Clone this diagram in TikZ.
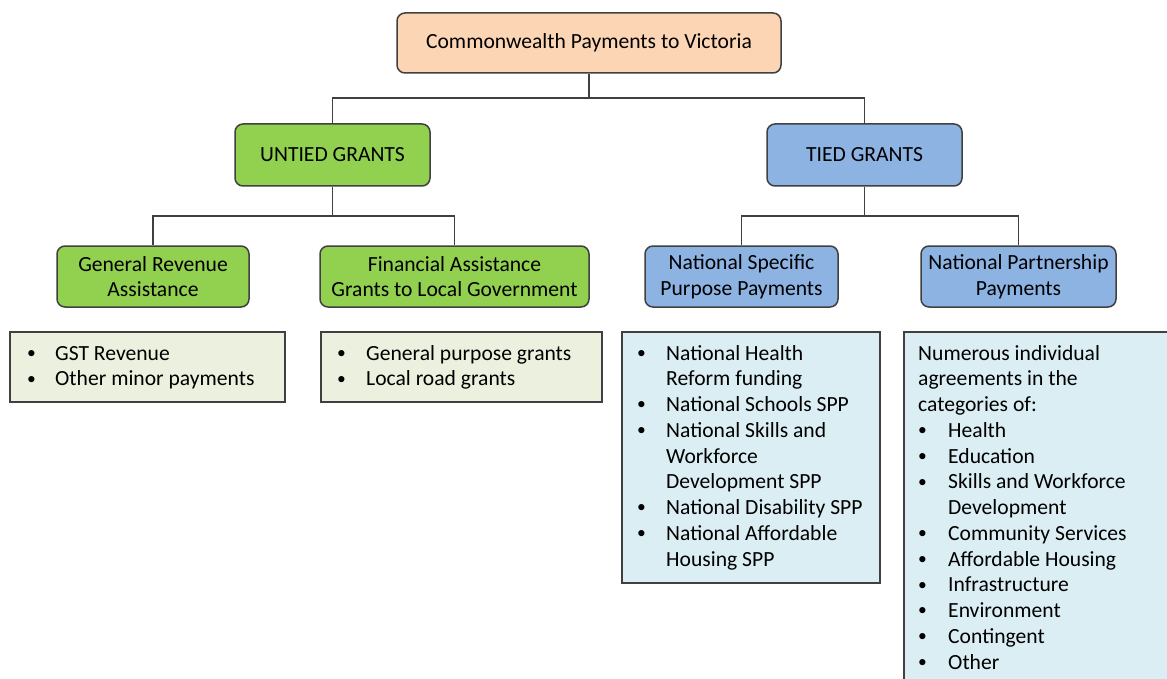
\documentclass[tikz,border=0pt]{standalone}
\usepackage{fontspec}
\setmainfont{Carlito}
\definecolor{edgegray}{HTML}{404040}
\definecolor{peach}{HTML}{FCD5B4}
\definecolor{grantgreen}{HTML}{92D050}
\definecolor{grantblue}{HTML}{8DB3E2}
\definecolor{listgreen}{HTML}{EBF1DE}
\definecolor{listblue}{HTML}{DBEEF3}
\newcommand{\bodyfont}{\fontsize{21.6}{25.75}\selectfont}
\newcommand{\bul}{\raisebox{1.6pt}{\fontsize{17.5}{17.5}\selectfont •}}
\begin{document}
\begin{tikzpicture}[x=1pt,y=-1pt,
  box/.style={draw=edgegray,line width=1.5pt,rounded corners=8pt,align=center,
    inner sep=0pt,font=\bodyfont,text=black},
  topbox/.style={box,fill=peach,minimum width=384pt,minimum height=60pt},
  greenbox/.style={box,fill=grantgreen},
  bluebox/.style={box,fill=grantblue},
  listbox/.style={draw=edgegray,line width=1.5pt,anchor=north west,inner sep=0pt},
  listtext/.style={anchor=base west,inner sep=0pt,font=\bodyfont,text=black},
  conn/.style={draw=edgegray,line width=1.5pt}]
\clip (0,0) rectangle (1167,679);
\fill[white] (0,0) rectangle (1167,679);

% hierarchy boxes
\node[topbox] (root) at (589,43) {Commonwealth Payments to Victoria};
\node[greenbox,minimum width=195pt,minimum height=62pt] (untied) at (332.5,155) {UNTIED GRANTS};
\node[bluebox,minimum width=195pt,minimum height=62pt] (tied) at (864.5,155) {TIED GRANTS};
\node[greenbox,minimum width=192pt,minimum height=61pt] (gra) at (153,276.5) {General Revenue\\Assistance};
\node[greenbox,minimum width=269pt,minimum height=61pt] (fag) at (454.5,276.5) {Financial Assistance\\Grants to Local Government};
\node[bluebox,minimum width=193pt,minimum height=61pt] (nsp) at (741.5,276.5) {National Specific\\Purpose Payments};
\node[bluebox,minimum width=195pt,minimum height=61pt] (npp) at (1018.5,276.5) {National Partnership\\Payments};

% connectors
\coordinate (j1) at (589,98);
\coordinate (j2) at (332.5,216);
\coordinate (j3) at (864.5,216);
\draw[conn] (root.south) -- (j1) -| (untied.north);
\draw[conn] (j1) -| (tied.north);
\draw[conn] (untied.south) -- (j2) -| (gra.north);
\draw[conn] (j2) -| (fag.north);
\draw[conn] (tied.south) -- (j3) -| (nsp.north);
\draw[conn] (j3) -| (npp.north);

% detail boxes
\node[listbox,fill=listgreen,minimum width=275pt,minimum height=70pt] (l1) at (9,331) {};
\node[listbox,fill=listgreen,minimum width=281pt,minimum height=70pt] (l2) at (320,331) {};
\node[listbox,fill=listblue,minimum width=258pt,minimum height=251pt] (l3) at (621,331) {};
\node[listbox,fill=listblue,minimum width=300pt,minimum height=400pt] (l4) at (903,331) {};

\node[listtext] (t1) at (27,360) {\begin{tabular}[t]{@{}p{28pt}@{}l@{}}
\bul&GST Revenue\\
\bul&Other minor payments
\end{tabular}};
\node[listtext] (t2) at (337,360) {\begin{tabular}[t]{@{}p{29pt}@{}l@{}}
\bul&General purpose grants\\
\bul&Local road grants
\end{tabular}};
\node[listtext] (t3) at (637,360) {\begin{tabular}[t]{@{}p{29pt}@{}l@{}}
\bul&National Health\\
&Reform funding\\
\bul&National Schools SPP\\
\bul&National Skills and\\
&Workforce\\
&Development SPP\\
\bul&National Disability SPP\\
\bul&National Affordable\\
&Housing SPP
\end{tabular}};
\node[listtext] (t4) at (918,360) {\begin{tabular}[t]{@{}p{30pt}@{}l@{}}
\multicolumn{2}{@{}l@{}}{Numerous individual}\\
\multicolumn{2}{@{}l@{}}{agreements in the}\\
\multicolumn{2}{@{}l@{}}{categories of:}\\
\bul&Health\\
\bul&Education\\
\bul&Skills and Workforce\\
&Development\\
\bul&Community Services\\
\bul&Affordable Housing\\
\bul&Infrastructure\\
\bul&Environment\\
\bul&Contingent\\
\bul&Other
\end{tabular}};
\end{tikzpicture}
\end{document}
